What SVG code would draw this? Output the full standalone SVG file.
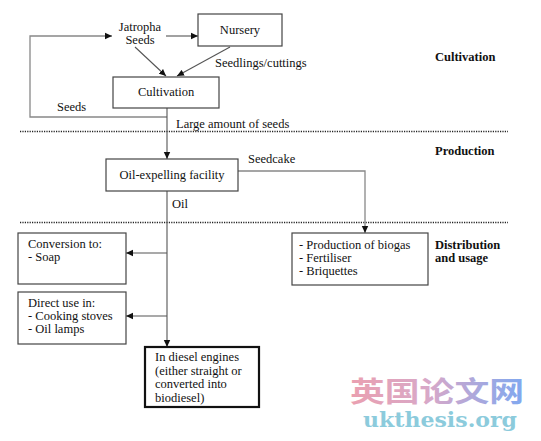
<svg xmlns="http://www.w3.org/2000/svg" width="541" height="441" viewBox="0 0 541 441">
<style>
text{font-family:"Liberation Serif","Times New Roman",serif;font-size:12.5px;fill:#111}
.b{font-weight:bold}
.box{fill:#fff;stroke:#444;stroke-width:1.2}
.thick{fill:#fff;stroke:#111;stroke-width:2.2}
.c{fill:none;stroke:#555;stroke-width:1.1}
.g{fill:none;stroke:#888;stroke-width:1.3}
.dot{stroke:#222;stroke-width:1.6;stroke-dasharray:1.2 1.2}
</style>
<defs>
<marker id="ah" markerWidth="8" markerHeight="8" refX="7" refY="4" orient="auto" markerUnits="userSpaceOnUse">
<path d="M0,0.8 L7,4 L0,7.2 Z" fill="#111"/>
</marker>
<linearGradient id="wm" x1="0" y1="0" x2="1" y2="0">
<stop offset="0" stop-color="#eaa0b0"/>
<stop offset="0.45" stop-color="#d8a8c8"/>
<stop offset="1" stop-color="#80a8f0"/>
</linearGradient>
</defs>
<rect width="541" height="441" fill="#fff"/>

<g id="dividers">
<line class="dot" x1="20" y1="131.5" x2="508" y2="131.5"/>
<line class="dot" x1="20" y1="222.5" x2="508" y2="222.5"/>
</g>

<g id="section-labels">
<text class="b" x="435" y="61">Cultivation</text>
<text class="b" x="435" y="155">Production</text>
<text class="b" x="435" y="249">Distribution</text>
<text class="b" x="435" y="262">and usage</text>
</g>

<g id="connectors">
<line class="c" x1="166" y1="36" x2="198" y2="36" marker-end="url(#ah)"/>
<line class="c" x1="135" y1="47" x2="166" y2="76" marker-end="url(#ah)"/>
<line class="c" x1="230" y1="47" x2="177" y2="76" marker-end="url(#ah)"/>
<polyline class="g" points="167,117 30,117 30,36 112,36" marker-end="url(#ah)"/>
<line class="c" x1="167" y1="108" x2="167" y2="159" marker-end="url(#ah)"/>
<polyline class="g" points="238,171 365,171 365,233" marker-end="url(#ah)"/>
<line class="c" x1="167" y1="191" x2="167" y2="347" marker-end="url(#ah)"/>
<line class="c" x1="167" y1="253" x2="126" y2="253" marker-end="url(#ah)"/>
<line class="c" x1="167" y1="316" x2="126" y2="316" marker-end="url(#ah)"/>
<text x="215" y="67">Seedlings/cuttings</text>
<text x="57" y="111">Seeds</text>
<text x="176" y="128">Large amount of seeds</text>
<text x="248" y="163">Seedcake</text>
<text x="172" y="208">Oil</text>
</g>

<g id="jatropha-seeds">
<text x="140" y="30.5" text-anchor="middle">Jatropha</text>
<text x="140" y="43.5" text-anchor="middle">Seeds</text>
</g>

<g id="nursery">
<rect class="box" x="198" y="14" width="84" height="32"/>
<text x="240" y="34" text-anchor="middle">Nursery</text>
</g>

<g id="cultivation">
<rect class="box" x="113" y="77" width="106" height="31"/>
<text x="166" y="96" text-anchor="middle">Cultivation</text>
</g>

<g id="oil-expelling">
<rect class="box" x="106" y="159" width="132" height="32"/>
<text x="172" y="179" text-anchor="middle">Oil-expelling facility</text>
</g>

<g id="biogas">
<rect class="box" x="292" y="233" width="136" height="52"/>
<text x="299" y="249">- Production of biogas</text>
<text x="299" y="262">- Fertiliser</text>
<text x="299" y="275">- Briquettes</text>
</g>

<g id="conversion">
<rect class="box" x="18" y="233" width="108" height="51"/>
<text x="28" y="248">Conversion to:</text>
<text x="28" y="261">- Soap</text>
</g>

<g id="direct-use">
<rect class="box" x="18" y="292" width="108" height="52"/>
<text x="28" y="307">Direct use in:</text>
<text x="28" y="320">- Cooking stoves</text>
<text x="28" y="333">- Oil lamps</text>
</g>

<g id="diesel">
<rect class="thick" x="145" y="347" width="114" height="60"/>
<text x="155" y="361">In diesel engines</text>
<text x="155" y="374.5">(either straight or</text>
<text x="155" y="388">converted into</text>
<text x="155" y="401.5">biodiesel)</text>
</g>

<g id="watermark">
<text x="350" y="402" style="font-family:'Noto Sans CJK SC',sans-serif;font-size:28px;font-weight:bold;fill:url(#wm)" textLength="174" lengthAdjust="spacingAndGlyphs">英国论文网</text>
<text x="363" y="427" style="font-family:'DejaVu Serif',serif;font-size:20px;font-weight:bold;fill:#8ccbdc" textLength="154" lengthAdjust="spacingAndGlyphs">ukthesis.org</text>
</g>
</svg>
